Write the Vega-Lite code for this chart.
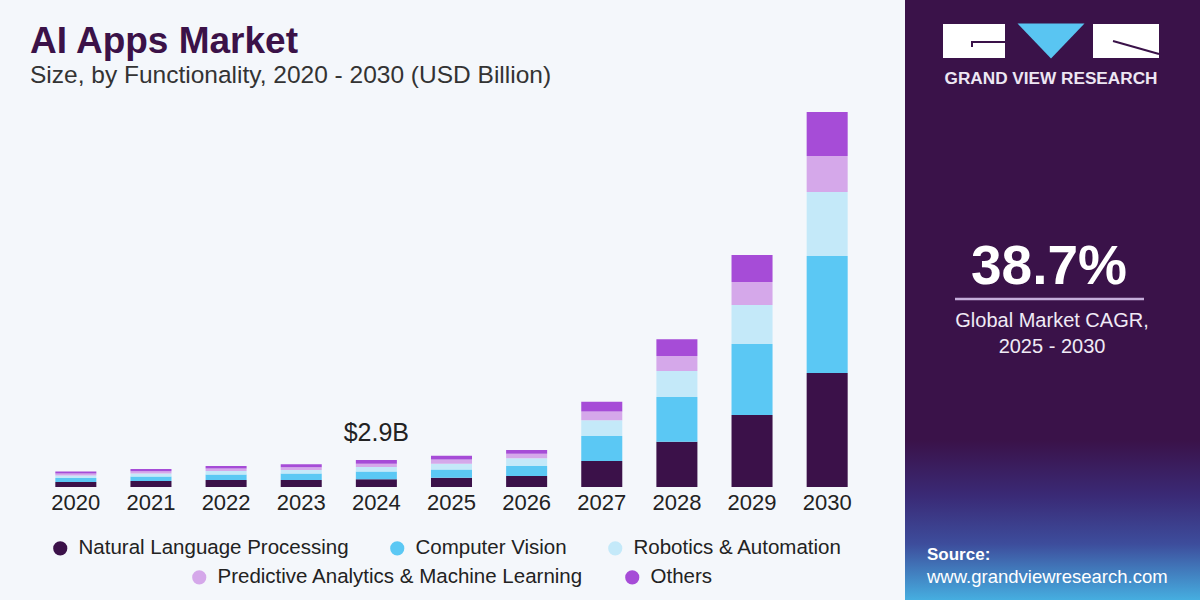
{
  "$schema": "https://vega.github.io/schema/vega-lite/v6.json",
  "background": "#f4f7fb",
  "padding": {"left": 30, "right": 0, "top": 0, "bottom": 0},
  "spacing": 32,
  "config": {"view": {"stroke": null}, "font": "Liberation Sans"},
  "datasets": {
    "market": [
      {"year": "2020", "segment": "Natural Language Processing", "rank": 1, "value": 0.54},
      {"year": "2020", "segment": "Computer Vision", "rank": 2, "value": 0.43},
      {"year": "2020", "segment": "Robotics & Automation", "rank": 3, "value": 0.27},
      {"year": "2020", "segment": "Predictive Analytics & Machine Learning", "rank": 4, "value": 0.21},
      {"year": "2020", "segment": "Others", "rank": 5, "value": 0.21},
      {"year": "2021", "segment": "Natural Language Processing", "rank": 1, "value": 0.64},
      {"year": "2021", "segment": "Computer Vision", "rank": 2, "value": 0.48},
      {"year": "2021", "segment": "Robotics & Automation", "rank": 3, "value": 0.32},
      {"year": "2021", "segment": "Predictive Analytics & Machine Learning", "rank": 4, "value": 0.25},
      {"year": "2021", "segment": "Others", "rank": 5, "value": 0.24},
      {"year": "2022", "segment": "Natural Language Processing", "rank": 1, "value": 0.75},
      {"year": "2022", "segment": "Computer Vision", "rank": 2, "value": 0.59},
      {"year": "2022", "segment": "Robotics & Automation", "rank": 3, "value": 0.38},
      {"year": "2022", "segment": "Predictive Analytics & Machine Learning", "rank": 4, "value": 0.27},
      {"year": "2022", "segment": "Others", "rank": 5, "value": 0.27},
      {"year": "2023", "segment": "Natural Language Processing", "rank": 1, "value": 0.74},
      {"year": "2023", "segment": "Computer Vision", "rank": 2, "value": 0.72},
      {"year": "2023", "segment": "Robotics & Automation", "rank": 3, "value": 0.37},
      {"year": "2023", "segment": "Predictive Analytics & Machine Learning", "rank": 4, "value": 0.29},
      {"year": "2023", "segment": "Others", "rank": 5, "value": 0.32},
      {"year": "2024", "segment": "Natural Language Processing", "rank": 1, "value": 0.83},
      {"year": "2024", "segment": "Computer Vision", "rank": 2, "value": 0.83},
      {"year": "2024", "segment": "Robotics & Automation", "rank": 3, "value": 0.5},
      {"year": "2024", "segment": "Predictive Analytics & Machine Learning", "rank": 4, "value": 0.35},
      {"year": "2024", "segment": "Others", "rank": 5, "value": 0.39},
      {"year": "2025", "segment": "Natural Language Processing", "rank": 1, "value": 1.0},
      {"year": "2025", "segment": "Computer Vision", "rank": 2, "value": 0.89},
      {"year": "2025", "segment": "Robotics & Automation", "rank": 3, "value": 0.61},
      {"year": "2025", "segment": "Predictive Analytics & Machine Learning", "rank": 4, "value": 0.46},
      {"year": "2025", "segment": "Others", "rank": 5, "value": 0.4},
      {"year": "2026", "segment": "Natural Language Processing", "rank": 1, "value": 1.18},
      {"year": "2026", "segment": "Computer Vision", "rank": 2, "value": 1.07},
      {"year": "2026", "segment": "Robotics & Automation", "rank": 3, "value": 0.83},
      {"year": "2026", "segment": "Predictive Analytics & Machine Learning", "rank": 4, "value": 0.5},
      {"year": "2026", "segment": "Others", "rank": 5, "value": 0.4},
      {"year": "2027", "segment": "Natural Language Processing", "rank": 1, "value": 2.79},
      {"year": "2027", "segment": "Computer Vision", "rank": 2, "value": 2.69},
      {"year": "2027", "segment": "Robotics & Automation", "rank": 3, "value": 1.69},
      {"year": "2027", "segment": "Predictive Analytics & Machine Learning", "rank": 4, "value": 0.93},
      {"year": "2027", "segment": "Others", "rank": 5, "value": 1.07},
      {"year": "2028", "segment": "Natural Language Processing", "rank": 1, "value": 4.87},
      {"year": "2028", "segment": "Computer Vision", "rank": 2, "value": 4.8},
      {"year": "2028", "segment": "Robotics & Automation", "rank": 3, "value": 2.79},
      {"year": "2028", "segment": "Predictive Analytics & Machine Learning", "rank": 4, "value": 1.61},
      {"year": "2028", "segment": "Others", "rank": 5, "value": 1.79},
      {"year": "2029", "segment": "Natural Language Processing", "rank": 1, "value": 7.73},
      {"year": "2029", "segment": "Computer Vision", "rank": 2, "value": 7.63},
      {"year": "2029", "segment": "Robotics & Automation", "rank": 3, "value": 4.19},
      {"year": "2029", "segment": "Predictive Analytics & Machine Learning", "rank": 4, "value": 2.47},
      {"year": "2029", "segment": "Others", "rank": 5, "value": 2.9},
      {"year": "2030", "segment": "Natural Language Processing", "rank": 1, "value": 12.24},
      {"year": "2030", "segment": "Computer Vision", "rank": 2, "value": 12.57},
      {"year": "2030", "segment": "Robotics & Automation", "rank": 3, "value": 6.87},
      {"year": "2030", "segment": "Predictive Analytics & Machine Learning", "rank": 4, "value": 3.87},
      {"year": "2030", "segment": "Others", "rank": 5, "value": 4.73}
    ]
  },
  "hconcat": [
    {
      "spacing": 0,
      "vconcat": [
        {
          "width": 843,
          "height": 96,
          "layer": [
            {
              "data": {"values": [{"t": "AI Apps Market"}]},
              "mark": {"type": "text", "align": "left", "baseline": "alphabetic", "fontSize": 37, "fontWeight": "bold", "color": "#3b1248", "font": "Liberation Sans"},
              "encoding": {
                "x": {"datum": 0, "type": "quantitative", "scale": {"domain": [0, 843], "nice": false, "zero": false}, "axis": null},
                "y": {"datum": 53, "type": "quantitative", "scale": {"domain": [0, 96], "nice": false, "zero": false, "reverse": true}, "axis": null},
                "text": {"field": "t"}
              }
            },
            {
              "data": {"values": [{"t": "Size, by Functionality, 2020 - 2030 (USD Billion)"}]},
              "mark": {"type": "text", "align": "left", "baseline": "alphabetic", "fontSize": 24.5, "color": "#333333", "font": "Liberation Sans"},
              "encoding": {
                "x": {"datum": 0, "type": "quantitative", "scale": {"domain": [0, 843], "nice": false, "zero": false}, "axis": null},
                "y": {"datum": 83, "type": "quantitative", "scale": {"domain": [0, 96], "nice": false, "zero": false, "reverse": true}, "axis": null},
                "text": {"field": "t"}
              }
            }
          ]
        },
        {
          "width": 843,
          "height": 391,
          "data": {"name": "market"},
          "layer": [
            {
              "mark": {"type": "bar"},
              "encoding": {
                "x": {
                  "field": "year", "type": "ordinal",
                  "scale": {"paddingInner": 0.454, "paddingOuter": 0.337},
                  "axis": {"title": null, "domain": false, "ticks": false, "labelAngle": 0, "labelFontSize": 22, "labelColor": "#222222", "labelPadding": 5.5, "labelFont": "Liberation Sans"}
                },
                "y": {"field": "value", "type": "quantitative", "stack": "zero", "scale": {"domain": [0, 42], "nice": false}, "axis": null},
                "order": {"field": "rank", "type": "quantitative", "sort": "ascending"},
                "color": {
                  "field": "segment", "type": "nominal",
                  "scale": {
                    "domain": ["Natural Language Processing", "Computer Vision", "Robotics & Automation", "Predictive Analytics & Machine Learning", "Others"],
                    "range": ["#3b1149", "#5bc8f4", "#c4e9f9", "#d5a8ea", "#a64cd7"]
                  },
                  "legend": {
                    "values": ["Natural Language Processing", "Computer Vision", "Robotics & Automation"],
                    "orient": "none", "legendX": 20, "legendY": 538, "direction": "horizontal",
                    "title": null, "padding": 0, "columnPadding": 38, "labelOffset": 8,
                    "symbolType": "circle", "symbolSize": 200, "symbolStrokeWidth": 0, "symbolOpacity": 1,
                    "labelFontSize": 20.5, "labelColor": "#222222", "labelLimit": 600, "labelFont": "Liberation Sans"
                  }
                }
              }
            },
            {
              "transform": [{"filter": {"field": "segment", "oneOf": ["Predictive Analytics & Machine Learning", "Others"]}}],
              "mark": {"type": "point", "filled": true, "opacity": 0},
              "encoding": {
                "x": {"field": "year", "type": "ordinal"},
                "y": {"field": "value", "type": "quantitative", "stack": null, "scale": {"domain": [0, 42], "nice": false}, "axis": null},
                "fill": {
                  "field": "segment", "type": "nominal",
                  "scale": {"domain": ["Predictive Analytics & Machine Learning", "Others"], "range": ["#d5a8ea", "#a64cd7"]},
                  "legend": {
                    "orient": "none", "legendX": 159, "legendY": 567, "direction": "horizontal",
                    "title": null, "padding": 0, "columnPadding": 38, "labelOffset": 8,
                    "symbolType": "circle", "symbolSize": 200, "symbolStrokeWidth": 0, "symbolOpacity": 1,
                    "labelFontSize": 20.5, "labelColor": "#222222", "labelLimit": 600, "labelFont": "Liberation Sans"
                  }
                }
              }
            },
            {
              "data": {"values": [{"year": "2024", "total": 2.9, "label": "$2.9B"}]},
              "mark": {"type": "text", "fontSize": 25, "dy": -19, "baseline": "alphabetic", "color": "#222222", "font": "Liberation Sans"},
              "encoding": {
                "x": {"field": "year", "type": "ordinal"},
                "y": {"field": "total", "type": "quantitative", "scale": {"domain": [0, 42], "nice": false}, "axis": null},
                "text": {"field": "label"}
              }
            }
          ]
        }
      ]
    },
    {
      "width": 295,
      "height": 600,
      "view": {"fill": "#3a1249", "stroke": null},
      "layer": [
        {
          "data": {"values": [{}]},
          "mark": {"type": "rect", "color": {"gradient": "linear", "x1": 0, "y1": 0, "x2": 0, "y2": 1, "stops": [{"offset": 0, "color": "#3a1249"}, {"offset": 0.35, "color": "#3a2a76"}, {"offset": 0.65, "color": "#3d4d9c"}, {"offset": 1, "color": "#46aee0"}]}},
          "encoding": {
            "x": {"datum": 0, "type": "quantitative", "scale": {"domain": [0, 295], "nice": false, "zero": false}, "axis": null},
            "x2": {"datum": 295},
            "y": {"datum": 440, "type": "quantitative", "scale": {"domain": [0, 600], "nice": false, "zero": false, "reverse": true}, "axis": null},
            "y2": {"datum": 600}
          }
        },
        {
          "data": {"values": [{}]},
          "mark": {"type": "rect", "color": "#ffffff"},
          "encoding": {
            "x": {"datum": 38, "type": "quantitative", "scale": {"domain": [0, 295], "nice": false, "zero": false}, "axis": null},
            "x2": {"datum": 100},
            "y": {"datum": 24, "type": "quantitative", "scale": {"domain": [0, 600], "nice": false, "zero": false, "reverse": true}, "axis": null},
            "y2": {"datum": 58}
          }
        },
        {
          "data": {"values": [{}]},
          "mark": {"type": "rect", "color": "#ffffff"},
          "encoding": {
            "x": {"datum": 188, "type": "quantitative", "scale": {"domain": [0, 295], "nice": false, "zero": false}, "axis": null},
            "x2": {"datum": 254},
            "y": {"datum": 24, "type": "quantitative", "scale": {"domain": [0, 600], "nice": false, "zero": false, "reverse": true}, "axis": null},
            "y2": {"datum": 58}
          }
        },
        {
          "data": {"values": [{}]},
          "mark": {"type": "point", "shape": "M-1,-0.52L1,-0.52L0,0.52Z", "size": 4489, "filled": true, "opacity": 1, "color": "#59c5f2"},
          "encoding": {
            "x": {"datum": 146, "type": "quantitative", "scale": {"domain": [0, 295], "nice": false, "zero": false}, "axis": null},
            "y": {"datum": 41, "type": "quantitative", "scale": {"domain": [0, 600], "nice": false, "zero": false, "reverse": true}, "axis": null}
          }
        },
        {
          "data": {"values": [{}]},
          "mark": {"type": "rule", "color": "#3a1249", "strokeWidth": 2},
          "encoding": {
            "x": {"datum": 67, "type": "quantitative", "scale": {"domain": [0, 295], "nice": false, "zero": false}, "axis": null},
            "x2": {"datum": 100},
            "y": {"datum": 42, "type": "quantitative", "scale": {"domain": [0, 600], "nice": false, "zero": false, "reverse": true}, "axis": null}
          }
        },
        {
          "data": {"values": [{}]},
          "mark": {"type": "rule", "color": "#3a1249", "strokeWidth": 2},
          "encoding": {
            "x": {"datum": 67, "type": "quantitative", "scale": {"domain": [0, 295], "nice": false, "zero": false}, "axis": null},
            "y": {"datum": 41, "type": "quantitative", "scale": {"domain": [0, 600], "nice": false, "zero": false, "reverse": true}, "axis": null},
            "y2": {"datum": 47}
          }
        },
        {
          "data": {"values": [{}]},
          "mark": {"type": "rule", "color": "#3a1249", "strokeWidth": 2},
          "encoding": {
            "x": {"datum": 208, "type": "quantitative", "scale": {"domain": [0, 295], "nice": false, "zero": false}, "axis": null},
            "x2": {"datum": 254},
            "y": {"datum": 41, "type": "quantitative", "scale": {"domain": [0, 600], "nice": false, "zero": false, "reverse": true}, "axis": null},
            "y2": {"datum": 54}
          }
        },
        {
          "data": {"values": [{"t": "GRAND VIEW RESEARCH"}]},
          "mark": {"type": "text", "fontSize": 17.2, "fontWeight": "bold", "color": "#ede6f3", "baseline": "middle", "align": "center", "font": "Liberation Sans"},
          "encoding": {
            "x": {"datum": 146, "type": "quantitative", "scale": {"domain": [0, 295], "nice": false, "zero": false}, "axis": null},
            "y": {"datum": 79, "type": "quantitative", "scale": {"domain": [0, 600], "nice": false, "zero": false, "reverse": true}, "axis": null},
            "text": {"field": "t"}
          }
        },
        {
          "data": {"values": [{"t": "38.7%"}]},
          "mark": {"type": "text", "fontSize": 55, "fontWeight": "bold", "color": "#ffffff", "baseline": "alphabetic", "align": "center", "font": "Liberation Sans"},
          "encoding": {
            "x": {"datum": 144, "type": "quantitative", "scale": {"domain": [0, 295], "nice": false, "zero": false}, "axis": null},
            "y": {"datum": 284, "type": "quantitative", "scale": {"domain": [0, 600], "nice": false, "zero": false, "reverse": true}, "axis": null},
            "text": {"field": "t"}
          }
        },
        {
          "data": {"values": [{}]},
          "mark": {"type": "rule", "color": "#c5aedb", "strokeWidth": 2.5},
          "encoding": {
            "x": {"datum": 50, "type": "quantitative", "scale": {"domain": [0, 295], "nice": false, "zero": false}, "axis": null},
            "x2": {"datum": 239},
            "y": {"datum": 299, "type": "quantitative", "scale": {"domain": [0, 600], "nice": false, "zero": false, "reverse": true}, "axis": null}
          }
        },
        {
          "data": {"values": [{"t": ["Global Market CAGR,", "2025 - 2030"]}]},
          "mark": {"type": "text", "fontSize": 20, "lineHeight": 25.5, "color": "#f0eaf5", "baseline": "alphabetic", "align": "center", "font": "Liberation Sans"},
          "encoding": {
            "x": {"datum": 147, "type": "quantitative", "scale": {"domain": [0, 295], "nice": false, "zero": false}, "axis": null},
            "y": {"datum": 327, "type": "quantitative", "scale": {"domain": [0, 600], "nice": false, "zero": false, "reverse": true}, "axis": null},
            "text": {"field": "t"}
          }
        },
        {
          "data": {"values": [{"t": "Source:"}]},
          "mark": {"type": "text", "fontSize": 17, "fontWeight": "bold", "color": "#ffffff", "baseline": "alphabetic", "align": "left", "font": "Liberation Sans"},
          "encoding": {
            "x": {"datum": 22, "type": "quantitative", "scale": {"domain": [0, 295], "nice": false, "zero": false}, "axis": null},
            "y": {"datum": 560, "type": "quantitative", "scale": {"domain": [0, 600], "nice": false, "zero": false, "reverse": true}, "axis": null},
            "text": {"field": "t"}
          }
        },
        {
          "data": {"values": [{"t": "www.grandviewresearch.com"}]},
          "mark": {"type": "text", "fontSize": 18.5, "color": "#ffffff", "baseline": "alphabetic", "align": "left", "font": "Liberation Sans"},
          "encoding": {
            "x": {"datum": 22, "type": "quantitative", "scale": {"domain": [0, 295], "nice": false, "zero": false}, "axis": null},
            "y": {"datum": 583, "type": "quantitative", "scale": {"domain": [0, 600], "nice": false, "zero": false, "reverse": true}, "axis": null},
            "text": {"field": "t"}
          }
        }
      ]
    }
  ]
}
